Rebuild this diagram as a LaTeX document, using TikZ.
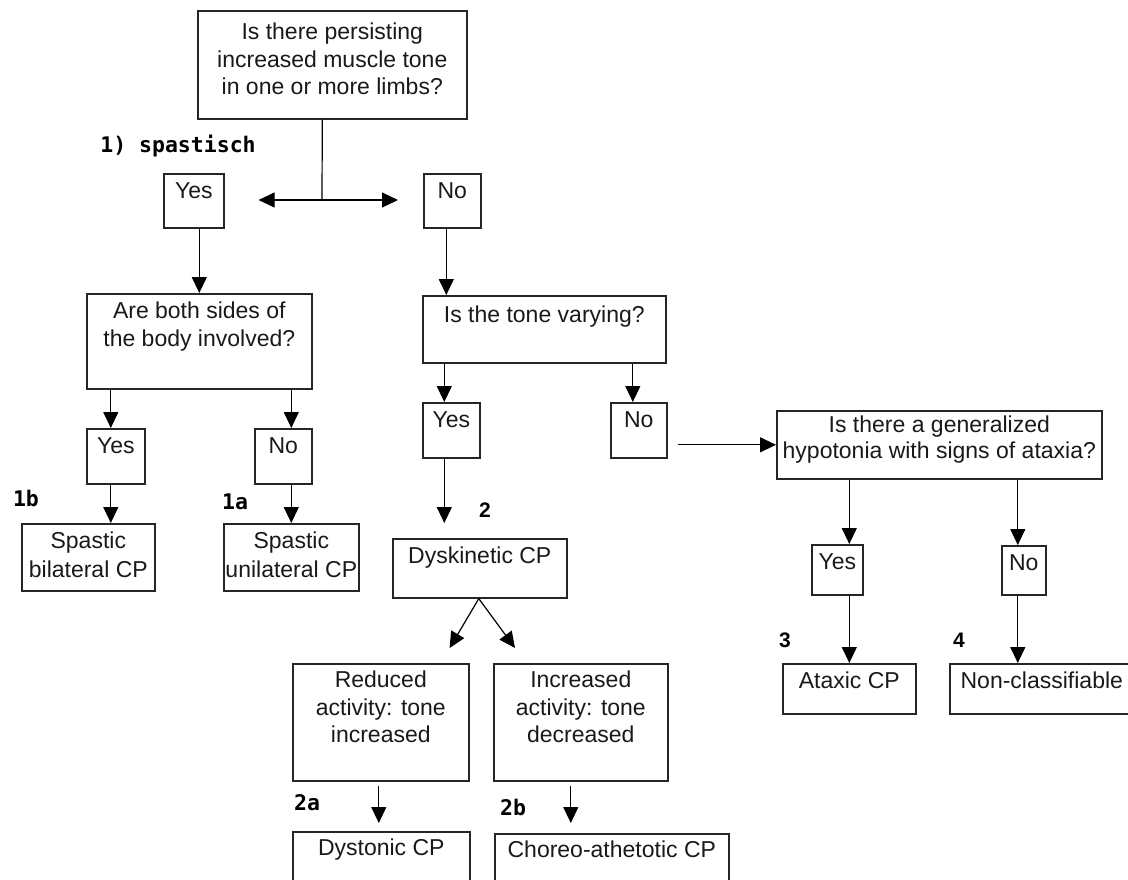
\documentclass[tikz,border=0pt]{standalone}
\usepackage{fontspec}
\setmainfont{Liberation Sans}
\newfontfamily\pixfont{DejaVu Sans Mono}
\usetikzlibrary{arrows.meta}
% Kastentext oben ausgerichtet
\newcommand{\cptext}[4][25]{\parbox[c][#3pt][t]{#2pt}{\centering\rule{0pt}{#1pt}#4}}

\begin{document}
\begin{tikzpicture}[x=1pt, y=-1pt,
    box/.style={draw=black!85, line width=1.6pt, inner sep=0pt, anchor=north west,
      text=black!90, font=\fontsize{23}{27.5}\selectfont},
    arr/.style={-{Triangle[width=15pt,length=16pt]}, line width=1.2pt},
    num/.style={inner sep=0pt, font=\pixfont\bfseries\fontsize{21.5}{21.5}\selectfont},
    ziffer/.style={inner sep=0pt, font=\bfseries\fontsize{21}{21}\selectfont}]
    \useasboundingbox (0,0) rectangle (1128,879);
    \clip (0,0) rectangle (1128,879);
    % Fragen
    \node[box] (q1) at (197,10) {\cptext[29]{269}{108}{Is there persisting\\increased muscle tone\\in one or more limbs?}};
    \node[box] (q1yes) at (163,173) {\cptext{60}{54}{Yes}};
    \node[box] (q1no) at (423,173) {\cptext{57}{54}{No}};
    \node[box] (q2) at (86,293) {\cptext{225}{95}{Are both sides of\\the body involved?}};
    \node[box] (q3) at (422,295) {\cptext[27]{243}{67}{Is the tone varying?}};
    \node[box] (q2yes) at (86,428) {\cptext{58}{55}{Yes}};
    \node[box] (q2no) at (254,428) {\cptext{57}{55}{No}};
    \node[box] (q3yes) at (422,402) {\cptext{57}{55}{Yes}};
    \node[box] (q3no) at (610,402) {\cptext{56}{55}{No}};
    \node[box, font=\fontsize{23}{26}\selectfont] (q4) at (776,410) {\cptext[22]{325}{68}{Is there a generalized\\hypotonia with signs of ataxia?}};
    \node[box] (q4yes) at (811,544) {\cptext{51}{50}{Yes}};
    \node[box] (q4no) at (1001,545) {\cptext{44}{49}{No}};
    % Ergebnisse
    \node[box, font=\fontsize{23}{29}\selectfont] (bilat) at (21,523) {\cptext{133}{67}{Spastic\\bilateral CP}};
    \node[box, font=\fontsize{23}{29}\selectfont] (unilat) at (223,523) {\cptext{135}{67}{Spastic\\unilateral CP}};
    \node[box] (dysk) at (392,538) {\cptext{174}{59}{Dyskinetic CP}};
    \node[box] (reduced) at (292,663) {\cptext[24]{176}{117}{Reduced\\activity: tone\\increased}};
    \node[box] (increased) at (493,663) {\cptext[24]{174}{117}{Increased\\activity: tone\\decreased}};
    \node[box] (dystonic) at (292,831) {\cptext[24]{177}{80}{Dystonic CP}};
    \node[box] (choreo) at (494,833) {\cptext[24]{234}{80}{Choreo-athetotic CP}};
    \node[box] (ataxic) at (782,663) {\cptext{133}{50}{Ataxic CP}};
    \node[box] (noncl) at (949,663) {\cptext{184}{50}{Non-classifiable}};
    % Nummern
    \node[num] (l1) at (178,146) {1) spastisch};
    \node[num] (l1b) at (26,498) {1b};
    \node[num] (l1a) at (235,502) {1a};
    \node[num] (l2a) at (307,803) {2a};
    \node[num] (l2b) at (513,807) {2b};
    \node[ziffer] (l2) at (485,510) {2};
    \node[ziffer] (l3) at (785,640) {3};
    \node[ziffer] (l4) at (959,640) {4};
    % Pfeile
    \coordinate (split) at (322,200);
    \draw[line width=1.2pt] ([xshift=-10pt]q1.south) -- (split);
    \draw[arr] (split) -- ([xshift=34pt]q1yes.east |- split);
    \draw[arr] (split) -- ([xshift=-25pt]q1no.west |- split);
    \draw[arr] (q2.north |- q1yes.south) -- (q2.north);
    \draw[arr] ([xshift=-6pt]q1no.south) -- ([xshift=-6pt]q1no.south |- q3.north);
    \draw[arr] ([xshift=-5pt]q2yes.north |- q2.south) -- ([xshift=-5pt]q2yes.north);
    \draw[arr] (unilat.north |- q2.south) -- (unilat.north |- q2no.north);
    \draw[arr] ([xshift=-5pt]q2yes.south) -- ([xshift=-5pt]q2yes.south |- bilat.north);
    \draw[arr] (unilat.north |- q2no.south) -- (unilat.north);
    \draw[arr] ([xshift=-7pt]q3yes.north |- q3.south) -- ([xshift=-7pt]q3yes.north);
    \draw[arr] ([xshift=-6pt]q3no.north |- q3.south) -- ([xshift=-6pt]q3no.north);
    \draw[arr, shorten >=15pt] ([xshift=-7pt]q3yes.south) -- ([xshift=-7pt]q3yes.south |- dysk.north);
    \draw[arr] ([xshift=10pt]q3no.east |- q4.west) -- (q4.west);
    \draw[arr] ([xshift=-1pt]dysk.south) -- ([xshift=-20pt,yshift=15pt]reduced.north east);
    \draw[arr] ([xshift=-1pt]dysk.south) -- ([xshift=22pt,yshift=15pt]increased.north west);
    \draw[arr, shorten >=8pt] ([xshift=-2pt,yshift=-4pt]reduced.south) -- ([xshift=-2pt]reduced.south |- dystonic.north);
    \draw[arr, shorten >=10pt] ([xshift=-10pt,yshift=-4pt]increased.south) -- ([xshift=-10pt]increased.south |- choreo.north);
    \draw[arr] (ataxic.north |- q4.south) -- (ataxic.north |- q4yes.north);
    \draw[arr] (ataxic.north |- q4yes.south) -- (ataxic.north);
    \draw[arr] ([xshift=-6pt]q4no.north |- q4.south) -- ([xshift=-6pt]q4no.north);
    \draw[arr] ([xshift=-6pt]q4no.south) -- ([xshift=-6pt]q4no.south |- noncl.north);
\end{tikzpicture}
\end{document}
